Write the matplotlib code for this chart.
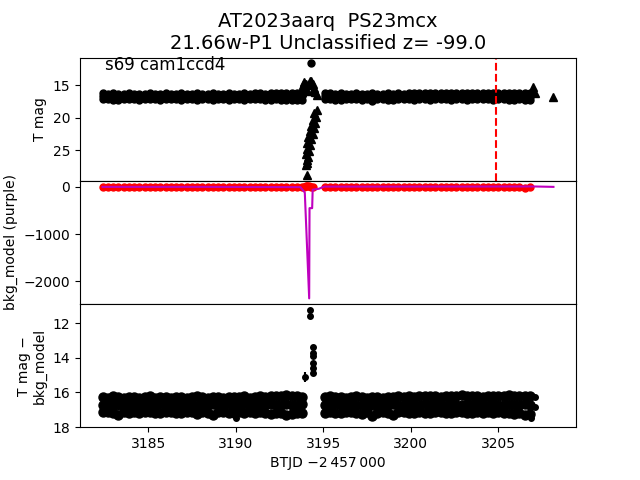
import numpy as np
import matplotlib
matplotlib.use("Agg")
import matplotlib.pyplot as plt

# quiescent light curve, sampled every ~0.3 d (BTJD - 2457000)
t_q = [3182.4, 3182.7, 3183.0, 3183.3, 3183.6, 3183.9, 3184.2, 3184.5, 3184.8, 3185.1,
       3185.4, 3185.7, 3186.0, 3186.3, 3186.6, 3186.9, 3187.2, 3187.5, 3187.8, 3188.1,
       3188.4, 3188.7, 3189.0, 3189.3, 3189.6, 3189.9, 3190.2, 3190.5, 3190.8, 3191.1,
       3191.4, 3191.7, 3192.0, 3192.3, 3192.6, 3192.9, 3193.2, 3193.5, 3193.8,
       3195.1, 3195.4, 3195.7, 3196.0, 3196.3, 3196.6, 3196.9, 3197.2, 3197.5, 3197.8,
       3198.1, 3198.4, 3198.7, 3199.0, 3199.3, 3199.6, 3199.9, 3200.2, 3200.5, 3200.8,
       3201.1, 3201.4, 3201.7, 3202.0, 3202.3, 3202.6, 3202.9, 3203.2, 3203.5, 3203.8,
       3204.1, 3204.4, 3204.7, 3205.0, 3205.3, 3205.6, 3205.9, 3206.2, 3206.5, 3206.8]
# bright edge / middle / faint edge of the scatter band (mag)
mag_hi = [16.25, 16.30, 16.22, 16.28, 16.30, 16.24, 16.27, 16.30, 16.26, 16.22,
          16.30, 16.28, 16.25, 16.30, 16.27, 16.24, 16.30, 16.26, 16.22, 16.28,
          16.30, 16.25, 16.27, 16.30, 16.24, 16.28, 16.26, 16.22, 16.30, 16.25,
          16.20, 16.27, 16.22, 16.18, 16.20, 16.15, 16.20, 16.18, 16.25,
          16.25, 16.20, 16.28, 16.24, 16.30, 16.26, 16.22, 16.28, 16.30, 16.25,
          16.27, 16.30, 16.24, 16.28, 16.20, 16.26, 16.22, 16.25, 16.20, 16.18,
          16.22, 16.20, 16.25, 16.18, 16.22, 16.20, 16.15, 16.22, 16.18, 16.20,
          16.24, 16.20, 16.18, 16.22, 16.20, 16.15, 16.20, 16.22, 16.18, 16.20]
mag_mid = [16.70, 16.68, 16.72, 16.70, 16.66, 16.71, 16.69, 16.72, 16.68, 16.70,
           16.73, 16.69, 16.70, 16.67, 16.72, 16.70, 16.68, 16.71, 16.70, 16.66,
           16.72, 16.69, 16.70, 16.73, 16.68, 16.70, 16.71, 16.67, 16.70, 16.72,
           16.69, 16.70, 16.68, 16.72, 16.70, 16.66, 16.71, 16.70, 16.68,
           16.70, 16.72, 16.68, 16.70, 16.71, 16.69, 16.72, 16.70, 16.67, 16.70,
           16.72, 16.69, 16.70, 16.68, 16.71, 16.70, 16.66, 16.70, 16.72, 16.68,
           16.70, 16.69, 16.71, 16.70, 16.67, 16.70, 16.72, 16.68, 16.70, 16.69,
           16.71, 16.70, 16.68, 16.72, 16.70, 16.69, 16.70, 16.71, 16.68, 16.72]
mag_lo = [17.15, 17.12, 17.18, 17.30, 17.14, 17.16, 17.12, 17.18, 17.15, 17.13,
          17.17, 17.20, 17.14, 17.12, 17.16, 17.18, 17.13, 17.15, 17.22, 17.14,
          17.17, 17.28, 17.15, 17.13, 17.18, 17.16, 17.14, 17.20, 17.15, 17.17,
          17.13, 17.18, 17.22, 17.16, 17.20, 17.30, 17.25, 17.18, 17.20,
          17.16, 17.14, 17.18, 17.20, 17.15, 17.13, 17.17, 17.22, 17.15, 17.35,
          17.16, 17.14, 17.18, 17.28, 17.15, 17.13, 17.17, 17.20, 17.14, 17.16,
          17.18, 17.15, 17.13, 17.17, 17.20, 17.15, 17.14, 17.18, 17.16, 17.13,
          17.17, 17.15, 17.20, 17.14, 17.16, 17.18, 17.22, 17.17, 17.30, 17.25]
# background flux at the same epochs (red points)
bkg_q = [-8, -10, -6, -12, -9, -7, -11, -8, -10, -6, -9, -12, -8, -7, -10, -9, -11, -6, -8, -10,
         -9, -7, -12, -8, -10, -9, -6, -11, -8, -9, -10, -7, -12, -9, -8, -5, -10, -6, 5,
         -8, -10, -7, -9, -11, -8, -6, -10, -9, -12, -8, -7, -10, -9, -11, -6, -8, -10, -9,
         -7, -12, -8, -10, -9, -6, -11, -8, -9, -10, -7, -12, -9, -8, -10, -6, -9, -11, -8, -15, -10]

# flare epoch
t_flare_bkg = [3193.9, 3194.0, 3194.1, 3194.2, 3194.3, 3194.4]
bkg_flare = [5, 10, 8, 10, 6, 4]

# top panel extras
t_top_det = [3194.28]
mag_top_det = [11.6]
t_top_lim = [3193.78, 3193.85, 3193.92, 3194.0, 3194.05, 3194.25, 3194.32, 3194.4, 3194.48, 3194.56, 3194.62,
             3193.82, 3193.95, 3194.3, 3194.45,
             3206.9, 3207.0, 3207.1, 3208.15]
mag_top_lim = [16.0, 15.0, 14.5, 14.8, 15.8, 14.3, 14.4, 14.8, 15.4, 16.0, 16.5,
               15.6, 15.2, 15.0, 15.9,
               16.0, 15.3, 16.1, 16.8]
t_faint = [3194.65, 3194.5, 3194.6, 3194.4, 3194.55, 3194.3, 3194.45, 3194.25, 3194.4, 3194.15,
           3194.3, 3194.1, 3194.25, 3194.05, 3194.2, 3194.0, 3194.15, 3194.05, 3194.1, 3194.0, 3194.1]
mag_faint = [18.8, 19.3, 19.8, 20.3, 20.8, 21.2, 21.6, 22.0, 22.4, 22.9,
             23.3, 23.8, 24.2, 24.7, 25.1, 25.6, 26.0, 26.5, 27.0, 27.3, 28.8]

# bottom panel extras
t_bot = [3194.24, 3194.24, 3194.43, 3194.43, 3194.43, 3194.43, 3194.43, 3194.43, 3190.0,
         3206.85, 3207.1, 3207.1]
mag_bot = [11.25, 11.58, 13.35, 13.73, 13.92, 14.3, 14.6, 14.88, 17.48, 17.45, 16.25, 16.83]
t_bot_err = [3193.95]
mag_bot_err = [15.1]
err_bot = [0.3]

# background model (purple line)
t_model = [3182.4, 3188.0, 3193.7, 3193.95, 3194.2, 3194.22, 3194.37, 3194.4, 3194.75, 3195.05,
           3200.0, 3207.1, 3208.15]
bkg_model = [0, 0, -5, -120, -2360, -450, -450, -60, -40, 5, 5, 8, 0]

t_disc = 3204.85

t_all = np.array(t_q + t_q + t_q)
m_all = np.array(mag_hi + mag_mid + mag_lo)

fig, ax = plt.subplots(3, 1, sharex=True)
fig.subplots_adjust(hspace=0)

a = ax[0]
a.plot(t_all, m_all, "o", color="k", ms=5)
a.plot(t_top_lim, mag_top_lim, "^", color="k", ms=6)
a.plot(t_faint, mag_faint, "^", color="k", ms=6)
a.plot(t_top_det, mag_top_det, "o", color="k", ms=5)
a.axvline(t_disc, color="r", ls="--", lw=1.5)
a.invert_yaxis()
a.set_ylabel("T mag")
a.text(0.05, 0.9, "s69 cam1ccd4", transform=a.transAxes, fontsize=12)
a.set_title("AT2023aarq  PS23mcx\n21.66w-P1 Unclassified z= -99.0", fontsize=14)

a = ax[1]
a.plot(t_q, bkg_q, "o", color="r", ms=5)
a.plot(t_flare_bkg, bkg_flare, "o", color="r", ms=5)
a.plot(t_model, bkg_model, "-", color="m", lw=1.5)
a.set_ylabel("bkg_model (purple)")

a = ax[2]
a.plot(t_all, m_all, "o", color="k", ms=6.5)
a.plot(t_bot, mag_bot, "o", color="k", ms=4)
a.errorbar(t_bot_err, mag_bot_err, yerr=err_bot, fmt="o", color="k", ms=4)
a.set_ylim(18, 10.9)
a.set_ylabel("T mag \u2212\nbkg_model")
a.set_xlabel("BTJD \u22122\u2009457\u2009000")

fig.savefig("out.png", format="png")
